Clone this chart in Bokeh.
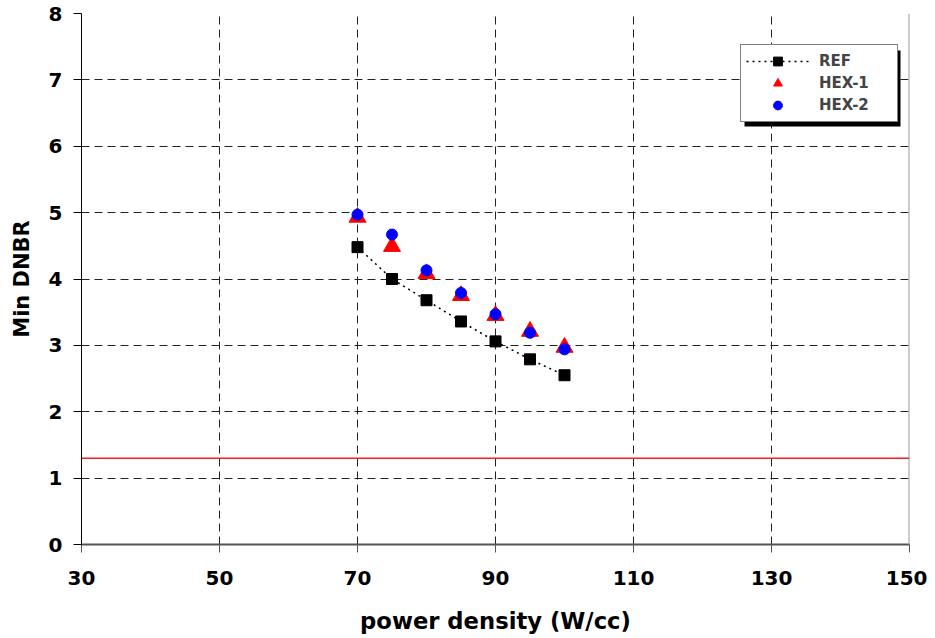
from bokeh.plotting import figure
from bokeh.models import (Legend, LegendItem, Span, FixedTicker,
                          Range1d, BoxAnnotation)
from bokeh.embed import file_html
from bokeh.resources import INLINE

# ---- data ----
power = [70, 75, 80, 85, 90, 95, 100]
ref = [4.48, 4.00, 3.68, 3.36, 3.06, 2.79, 2.55]
hex1 = [4.93, 4.49, 4.08, 3.75, 3.45, 3.21, 2.97]
hex2 = [4.97, 4.67, 4.13, 3.79, 3.47, 3.19, 2.94]
limit = 1.3
x_ticks = [30, 50, 70, 90, 110, 130, 150]
y_ticks = [0, 1, 2, 3, 4, 5, 6, 7, 8]

FONT = "DejaVu Sans"

p = figure(width=927, height=636, output_backend="svg", toolbar_location=None,
           x_range=Range1d(x_ticks[0], x_ticks[-1]),
           y_range=Range1d(y_ticks[0], y_ticks[-1]),
           min_border_left=81, min_border_right=18, min_border_top=13,
           min_border_bottom=92)
p.outline_line_color = None
p.background_fill_color = "white"
p.border_fill_color = "white"

# axes
for ax in (p.xaxis[0], p.yaxis[0]):
    ax.major_label_text_font = FONT
    ax.major_label_text_font_style = "bold"
    ax.major_label_text_font_size = "20px"
    ax.major_label_text_color = "black"
    ax.axis_label_text_font = FONT
    ax.axis_label_text_font_style = "bold"
    ax.axis_label_text_color = "black"
    ax.minor_tick_line_color = None
    ax.major_tick_in = 0

p.xaxis[0].ticker = FixedTicker(ticks=x_ticks)
p.yaxis[0].ticker = FixedTicker(ticks=y_ticks)
p.xaxis[0].axis_label = "power density (W/cc)"
p.yaxis[0].axis_label = "Min DNBR"
p.xaxis[0].axis_label_text_font_size = "22.7px"
p.yaxis[0].axis_label_text_font_size = "21px"
p.xaxis[0].major_tick_out = 8
p.yaxis[0].major_tick_out = 8
p.xaxis[0].axis_line_color = "#555555"
p.xaxis[0].major_tick_line_color = "#555555"
p.xaxis[0].axis_line_width = 2
p.yaxis[0].axis_line_color = "black"
p.yaxis[0].major_tick_line_color = "black"
p.xaxis[0].major_label_standoff = 18
p.yaxis[0].major_label_standoff = 11
p.xaxis[0].axis_label_standoff = 20
p.yaxis[0].axis_label_standoff = 12

# right border of the plot area
p.add_layout(Span(location=x_ticks[-1], dimension="height",
                  line_color="#999999", line_width=2))

# grid
p.xgrid.grid_line_color = "#222222"
p.ygrid.grid_line_color = "#222222"
p.xgrid.grid_line_dash = "8 5"
p.ygrid.grid_line_dash = "8 5"
p.xgrid.grid_line_width = 1
p.ygrid.grid_line_width = 1

# limit line
p.add_layout(Span(location=limit, dimension="width", line_color="#ee2222",
                  line_width=1.5))

# data
ref_line = p.line(power, ref, line_color="black", line_width=1.5,
                  line_dash="2 4")
ref_sq = p.scatter(power, ref, marker="square", size=11, fill_color="black",
                   line_color="black")
h1 = p.scatter(power, hex1, marker="triangle", size=17, fill_color="red",
               line_color="red")
h2 = p.scatter(power, hex2, marker="circle", size=11, fill_color="blue",
               line_color="blue")

# legend shadow
p.add_layout(BoxAnnotation(left=663, right=819, bottom=418, top=494,
                           left_units="screen", right_units="screen",
                           bottom_units="screen", top_units="screen",
                           fill_color="black", fill_alpha=1.0,
                           line_color=None))

legend = Legend(items=[LegendItem(label="REF", renderers=[ref_line, ref_sq]),
                       LegendItem(label="HEX-1", renderers=[h1]),
                       LegendItem(label="HEX-2", renderers=[h2])],
                location=(659, 422), padding=5, spacing=0,
                glyph_width=63, glyph_height=22, label_height=22,
                label_standoff=10, label_width=73,
                label_text_font=FONT, label_text_font_style="bold",
                label_text_font_size="15px",
                border_line_color="black", border_line_width=1,
                background_fill_color="white", background_fill_alpha=1.0)
p.add_layout(legend, "center")

open("out.html", "w").write(file_html(p, INLINE))
